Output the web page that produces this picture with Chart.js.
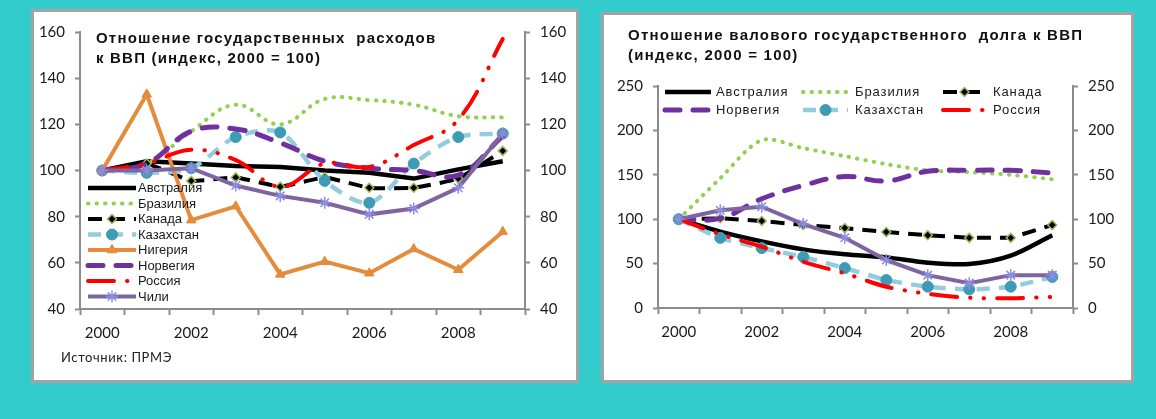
<!DOCTYPE html>
<html><head><meta charset="utf-8">
<script src="https://cdn.jsdelivr.net/npm/chart.js@4.4.1/dist/chart.umd.min.js"></script>
<style>
html,body{margin:0;padding:0;}
body{width:1156px;height:419px;background:#33CCCC;position:relative;overflow:hidden;font-family:"Liberation Sans",Arial,sans-serif;}
.panel{position:absolute;background:#fff;border:3px solid #a3a3a3;box-sizing:border-box;}
#p1{left:31px;top:9px;width:548px;height:374px;}
#p2{left:601px;top:12px;width:533px;height:371px;}
canvas{position:absolute;}
#c1{left:35px;top:13px;}
#c2{left:604px;top:15px;}
.title{position:absolute;font-weight:bold;font-size:15px;line-height:20px;letter-spacing:1.2px;color:#111;white-space:pre;}
#t1{left:96px;top:28px;}
#t2{left:628px;top:25px;line-height:19.5px;letter-spacing:1.25px;}
#src{position:absolute;left:61px;top:349px;font-family:Lato,sans-serif;font-size:13px;letter-spacing:0.6px;color:#222;}
</style></head>
<body>
<div class="panel" id="p1"></div>
<div class="panel" id="p2"></div>
<canvas id="c1" width="539" height="367"></canvas>
<canvas id="c2" width="526" height="365"></canvas>
<div class="title" id="t1">Отношение государственных  расходов
к ВВП (индекс, 2000 = 100)</div>
<div class="title" id="t2">Отношение валового государственного  долга к ВВП
(индекс, 2000 = 100)</div>
<div id="src">Источник: ПРМЭ</div>
<script>
// ---- data ----
const years = ['2000','2001','2002','2003','2004','2005','2006','2007','2008','2009'];
const leftTicks = [40, 60, 80, 100, 120, 140, 160];
const rightTicks = [0, 50, 100, 150, 200, 250];

// Government expenditure to GDP (index, 2000 = 100)
const expAustralia  = [100, 104, 103, 102, 101.5, 100, 99, 96.5, 100.5, 104];
const expBrazil     = [100, 103, 117, 128.5, 120, 131, 130.5, 128.5, 123.5, 123];
const expCanada     = [100, 103, 95.5, 97, 93, 97, 92.5, 92.5, 96.5, 108.5];
const expKazakhstan = [100, 99, 101, 114.5, 116.5, 95.5, 86, 103, 114.5, 116];
const expNigeria    = [100, 133, 78.5, 84.5, 55, 60.5, 55.5, 66, 57, 73.5];
const expNorway     = [100, 103, 117, 118, 112, 104, 101, 100, 98, 115];
const expRussia     = [100, 103, 109, 104.5, 93, 103, 101.5, 111, 122, 157];
const expChile      = [100, 100, 101, 93.5, 89, 86, 81, 83.5, 92.5, 116];

// Gross government debt to GDP (index, 2000 = 100)
const debtAustralia  = [100, 86, 75, 66, 60.5, 57, 51, 49.5, 59, 82];
const debtBrazil     = [100, 146, 189, 180, 171, 162, 155, 153, 150, 145];
const debtCanada     = [100, 101, 98, 93.5, 90, 85.5, 82, 79, 79, 93.5];
const debtNorway     = [100, 101, 123, 138, 148, 143, 154, 155, 155, 152];
const debtKazakhstan = [100, 79, 67.5, 57.5, 45, 31.5, 24, 21, 24, 35];
const debtRussia     = [100, 83, 69, 52, 39, 24, 16, 11.5, 11, 12.5];
const debtChile      = [100, 110, 114, 94.5, 79, 54, 37, 28, 37, 37];

// ---- styles ----
const AX = '#8c8c8c';
const TICKFONT = {family: 'Lato', size: 15};
const S = {
  'Австралия': {borderColor:'#000', borderWidth:4.5, borderDash:[], borderCapStyle:'butt', pointRadius:0},
  'Бразилия':  {borderColor:'#92D050', borderWidth:4, borderDash:[0.5,8], borderCapStyle:'round', pointRadius:0},
  'Канада':    {borderColor:'#000', borderWidth:4, borderDash:[14,9], borderCapStyle:'butt', pointRadius:4.5, pointStyle:'rectRot', pointBackgroundColor:'#000', pointBorderColor:'#9BBB59', pointBorderWidth:1.5},
  'Казахстан': {borderColor:'#93CDDD', borderWidth:4.5, borderDash:[13,9], borderCapStyle:'butt', pointRadius:5.5, pointStyle:'circle', pointBackgroundColor:'#3D9BB5', pointBorderColor:'#3D9BB5', pointBorderWidth:1},
  'Нигерия':   {borderColor:'#E48B3C', borderWidth:4, borderDash:[], borderCapStyle:'butt', pointRadius:5.5, pointStyle:'triangle', pointBackgroundColor:'#E48B3C', pointBorderColor:'#E48B3C', pointBorderWidth:1},
  'Норвегия':  {borderColor:'#7030A0', borderWidth:5, borderDash:[15,13], borderCapStyle:'round', pointRadius:0},
  'Россия':    {borderColor:'#FF0000', borderWidth:4, borderDash:[26,13,0.5,13,0.5,13], borderCapStyle:'round', pointRadius:0},
  'Чили':      {borderColor:'#8064A2', borderWidth:4, borderDash:[], borderCapStyle:'butt', pointRadius:6, pointStyle:'star', pointBackgroundColor:'#8C8CE0', pointBorderColor:'#8C8CE0', pointBorderWidth:1.5}
};

function mk(label, data, tension, n, i) {
  return Object.assign({label, data, tension, order: n - i, fill:false}, S[label]);
}

function legendPlugin(entries) {
  return {
    id: 'customLegend',
    afterDatasetsDraw(chart) {
      const ctx = chart.ctx;
      entries.forEach(e => {
        const ds = chart.data.datasets[e.i];
        ctx.save();
        ctx.strokeStyle = ds.borderColor;
        ctx.lineWidth = ds.borderWidth;
        ctx.lineCap = ds.borderCapStyle || 'butt';
        ctx.setLineDash(ds.borderDash || []);
        ctx.beginPath(); ctx.moveTo(e.x0, e.y); ctx.lineTo(e.x1, e.y); ctx.stroke();
        if (ds.pointRadius > 0 && Chart.helpers && Chart.helpers.drawPoint) {
          ctx.setLineDash([]);
          ctx.fillStyle = ds.pointBackgroundColor;
          ctx.strokeStyle = ds.pointBorderColor;
          ctx.lineWidth = ds.pointBorderWidth;
          Chart.helpers.drawPoint(ctx, {pointStyle: ds.pointStyle, radius: ds.pointRadius, borderWidth: ds.pointBorderWidth, rotation: 0}, (e.x0 + e.x1) / 2, e.y);
        }
        ctx.fillStyle = '#1a1a1a';
        ctx.font = e.font;
        if ('letterSpacing' in ctx) ctx.letterSpacing = e.ls || '0px';
        ctx.textBaseline = 'middle';
        ctx.textAlign = 'left';
        ctx.fillText(ds.label, e.tx, e.y + 0.5);
        ctx.restore();
      });
    }
  };
}

function yAxis(pos, min, max, step, width, ticksArr) {
  return {
    type: 'linear', position: pos, axis: 'y', min, max,
    afterFit: s => { s.width = width; },
    afterBuildTicks: s => { s.ticks = ticksArr.map(v => ({value: v})); },
    grid: {drawOnChartArea: false, drawTicks: true, tickLength: 5, tickWidth: 2, tickColor: AX},
    border: {display: true, color: AX, width: 2},
    ticks: {stepSize: step, padding: 10, color: '#1a1a1a', font: TICKFONT}
  };
}

function xAxis() {
  return {
    type: 'category', offset: true,
    afterFit: s => { s.height = 30; },
    grid: {offset: true, drawOnChartArea: false, drawTicks: true, tickLength: 6, tickWidth: 2, tickColor: AX},
    border: {display: true, color: AX, width: 2},
    ticks: {autoSkip: false, maxRotation: 0, padding: 9, color: '#1a1a1a', font: TICKFONT,
            callback: (v, i) => (i % 2 === 0 ? years[i] : '')}
  };
}

// ---- left chart ----
const leftSeries = [
  ['Австралия', expAustralia, 0],
  ['Бразилия', expBrazil, 0.4],
  ['Канада', expCanada, 0.1],
  ['Казахстан', expKazakhstan, 0.3],
  ['Нигерия', expNigeria, 0],
  ['Норвегия', expNorway, 0.4],
  ['Россия', expRussia, 0.4],
  ['Чили', expChile, 0]
];
const leftDatasets = leftSeries.map((s, i) => mk(s[0], s[1], s[2], leftSeries.length, i));
const leftLegend = leftSeries.map((s, i) => ({i, x0: 53, x1: 101, y: 175 + 15.5 * i, tx: 103, font: '13px "Liberation Sans"', ls: '0px'}));

new Chart(document.getElementById('c1'), {
  type: 'line',
  data: {labels: years, datasets: leftDatasets},
  options: {
    responsive: false, animation: false, devicePixelRatio: 1,
    layout: {padding: {left: 0, right: 0, top: 18, bottom: 41}},
    plugins: {legend: {display: false}, tooltip: {enabled: false}, title: {display: false}},
    scales: {
      x: xAxis(),
      y: yAxis('left', 40, 160, 20, 45, leftTicks),
      y2: yAxis('right', 40, 160, 20, 49, leftTicks)
    }
  },
  plugins: [legendPlugin(leftLegend)]
});

// ---- right chart ----
const rightSeries = [
  ['Австралия', debtAustralia, 0.3],
  ['Бразилия', debtBrazil, 0.3],
  ['Канада', debtCanada, 0],
  ['Норвегия', debtNorway, 0.4],
  ['Казахстан', debtKazakhstan, 0.2],
  ['Россия', debtRussia, 0.3],
  ['Чили', debtChile, 0]
];
const rightDatasets = rightSeries.map((s, i) => mk(s[0], s[1], s[2], rightSeries.length, i));
const colX = [[61, 107, 112], [199, 244, 251], [339, 382, 389]];
const rightLegend = [0, 1, 2, 3, 4, 5].map(i => {
  const c = colX[i % 3];
  return {i, x0: c[0], x1: c[1], y: i < 3 ? 77 : 95, tx: c[2], font: '13px "Liberation Sans"', ls: '0.9px'};
});

new Chart(document.getElementById('c2'), {
  type: 'line',
  data: {labels: years, datasets: rightDatasets},
  options: {
    responsive: false, animation: false, devicePixelRatio: 1,
    layout: {padding: {left: 0, right: 0, top: 71, bottom: 42}},
    plugins: {legend: {display: false}, tooltip: {enabled: false}, title: {display: false}},
    scales: {
      x: xAxis(),
      y: yAxis('left', 0, 250, 50, 54, rightTicks),
      y2: yAxis('right', 0, 250, 50, 57, rightTicks)
    }
  },
  plugins: [legendPlugin(rightLegend)]
});
</script>
</body></html>
